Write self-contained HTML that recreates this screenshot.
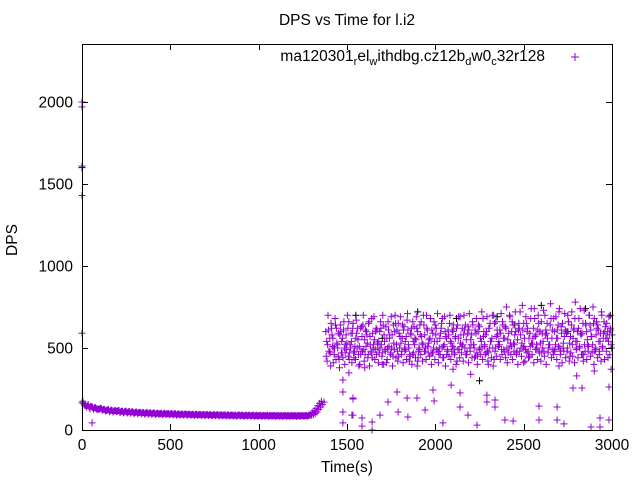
<!DOCTYPE html>
<html><head><meta charset="utf-8"><style>
html,body{margin:0;padding:0;background:#fff}
svg{display:block;font-family:"Liberation Sans",sans-serif}
</style></head><body>
<svg id="chart" width="640" height="480" viewBox="0 0 640 480" xmlns="http://www.w3.org/2000/svg">
<rect width="640" height="480" fill="#fff"/>
<text x="347" y="25" font-size="15.5" text-anchor="middle">DPS vs Time for l.i2</text>
<text x="17" y="240" font-size="15.5" text-anchor="middle" transform="rotate(-90 17 240)">DPS</text>
<text x="347" y="472" font-size="15.5" text-anchor="middle">Time(s)</text>
<g id="marks"></g>
<g id="axes"></g>
<g>
<text x="545" y="61" font-size="15.5" text-anchor="end">ma120301<tspan font-size="11" dy="4">r</tspan><tspan dy="-4">el</tspan><tspan font-size="11" dy="4">w</tspan><tspan dy="-4">ithdbg.cz12b</tspan><tspan font-size="11" dy="4">d</tspan><tspan dy="-4">w0</tspan><tspan font-size="11" dy="4">c</tspan><tspan dy="-4">32r128</tspan></text>
<path d="M571,57h8M575,53v8" stroke="#9400d3" stroke-width="1"/>
</g>
</svg>
<script>
const xTicks=[0,500,1000,1500,2000,2500,3000];
const yTicks=[0,500,1000,1500,2000];
const lowStart=0;
const lowA=[165,160,150,148,140,145,138,135,132,130,128,130,125,122,120,124,118,120,116,118,115,117,112,114,110,113,108,112,110,108,107,110,105,108,104,106,103,105,102,104,102,104,100,103,99,101,98,102,99,100,98,100,97,99,96,98,95,97,96,98,95,97,94,96,93,96,94,95,93,95,93,95,92,94,91,94,92,93,91,93,91,93,90,92,90,92,89,91,90,92,89,91,88,90,89,91,88,90,88,90,88,90,87,89,88,90,87,89,88,89,87,89,86,88,87,89,86,88,87,88,87,88,86,88,87,88,86,88,87,88,90,94,100,110,125,140,155,170];
const lowB=[175,150,140,155,130,142,128,137,124,126,133,121,127,115,123,112,121,110,117,113,119,106,115,104,116,103,112,102,111,100,108,99,107,98,106,97,105,96,104,95,103,94,102,96,100,93,101,94,99,92,99,92,98,91,97,90,97,91,96,89,96,90,95,88,95,89,94,88,94,87,93,88,93,86,92,87,92,86,91,86,91,85,91,86,90,85,90,84,90,85,89,84,89,85,89,84,89,83,88,84,88,83,88,84,88,83,88,84,87,83,87,84,87,83,87,84,87,83,87,84,87,83,88,84,88,85,88,84,92,97,105,118,132,148,162,175];
const bandStart=1380;
const bandA=[600,520,480,650,560,500,620,450,580,540,610,470,530,660,500,590,440,560,620,510,480,640,550,600,460,570,680,520,490,610,540,660,470,580,630,500,560,690,450,600,520,650,570,480,610,540,670,500,590,460,630,550,600,490,660,520,580,700,470,560,610,500,640,540,460,590,680,520,570,490,650,530,600,470,620,560,690,510,580,640,480,610,550,660,500,590,450,630,540,680,520,600,470,650,560,700,500,610,540,590,660,480,620,550,700,510,640,580,460,610,720,530,650,490,600,560,680,520,740,580,610,470,660,540,700,590,500,640,560,680,520,610,720,480,650,570,600,700,530,640,560,680,500,620,740,590,460,650,550,700,610,520,680,580,640,480,720,560,600,650,540,620,580];
const bandB=[540,610,470,580,500,640,520,430,600,560,500,580,620,470,540,650,510,590,460,620,570,490,610,530,660,480,590,550,620,500,600,520,640,490,560,610,470,580,530,650,480,590,530,640,500,570,610,460,620,540,560,620,480,580,530,640,500,610,550,470,590,540,620,480,560,650,510,600,460,580,540,610,500,570,640,490,580,520,610,550,630,500,580,520,610,470,640,560,500,600,580,480,620,540,500,650,570,520,610,490,560,630,500,590,530,660,480,600,550,620,500,610,560,650,480,590,530,620,570,500,650,530,590,480,610,560,520,680,490,600,560,640,500,590,530,610,480,660,570,520,620,540,600,510,580,650,520,600,480,640,570,650,500,620,540,590,510,660,560,600,580,520];
const bandC=[450,700,560,620,410,680,530,590,640,470,660,520,700,430,590,620,480,670,550,400,630,700,460,580,650,520,440,690,600,530,470,620,700,540,410,660,580,500,640,700,610,450,690,560,630,490,710,420,580,660,520,690,440,640,570,700,480,620,530,680,470,660,580,710,500,620,440,690,560,610,700,480,640,560,420,690,530,620,700,460,590,710,520,640,440,680,600,500,720,570,460,690,620,540,700,430,660,580,520,710,640,560,750,470,690,600,530,720,480,650,580,760,510,690,620,450,740,560,680,520,700,600,470,730,580,650,520,770,610,480,690,560,740,630,500,710,590,660,450,720,610,780,540,680,590,460,730,640,520,700,570,750,480,660,610,540,700,590,630,560,690,610];
const bandD=[420,480,390,510,460,430,500,380,470,440,400,490,450,520,410,470,430,500,390,460,480,420,510,440,390,470,500,430,460,410,500,450,400,480,430,510,460,390,490,440,420,500,460,410,480,430,520,450,400,470,440,390,500,460,420,480,430,510,450,400,470,430,490,410,460,500,440,390,480,450,430,510,460,400,490,440,470,420,500,460,410,480,440,520,450,400,490,460,430,510,470,420,500,440,390,480,450,510,430,460,490,440,410,500,460,430,520,470,400,480,450,500,420,470,440,510,460,410,490,430,480,420,500,450,400,470,520,440,460,490,430,510,460,410,480,440,500,420,470,450,410,490,440,500,460,420,480,430,510,450,470,400,490,440,460,420,500,430,480,440,460,500];
const outT=[0,0,0,0,0,57,1477,1477,1477,1534,1528,1585,1585,1642,1642,1687,1732,1789,1783,1840,1896,1845,1942,1987,1993,2043,2089,2140,2140,2185,2236,2292,2292,2338,2338,2394,2440,2587,2587,2689,2689,2728,2779,2830,2881,2932,2932,2983,2983,1477,1534,1534,1511,1600,1700,1900,2100,2300,2500,2700,2900,2200,2800,2995];
const outV=[590,2000,1970,1610,1430,43,232,110,43,195,91,73,24,49,0,91,171,110,232,195,195,79,122,244,177,43,274,226,140,91,30,213,171,183,140,61,55,146,61,140,61,37,256,256,18,73,18,262,61,305,189,91,348,380,400,420,370,400,410,390,360,340,330,370];
const blackT=[0,0,0,1550,1900,2120,2350,2600,2850,2990,2250,1700,2450,2750];
const blackV=[2000,1600,1430,700,720,680,690,760,740,700,300,560,640,600];

const X0=82,X1=612,Y0=430,Y1=44,XMAX=3000,YPX=0.164;
function xs(t){return X0+t*(X1-X0)/XMAX;}
function ys(v){return Y0-v*YPX;}
const NS='http://www.w3.org/2000/svg';
const marks=document.getElementById('marks');
const axes=document.getElementById('axes');
let blackD='',purpleD='';
function plus(t,v){const x=xs(t),y=ys(v);if(x<X0-1||x>X1+1||y<Y1||y>Y0+1)return '';return 'M'+(x-3.5).toFixed(1)+','+y.toFixed(1)+'h7M'+x.toFixed(1)+','+(y-3.5).toFixed(1)+'v7';}
for(let i=0;i<blackT.length;i++)blackD+=plus(blackT[i],blackV[i]);
for(let i=0;i<lowA.length;i++)purpleD+=plus(lowStart+i*10,lowA[i]);
for(let i=0;i<lowB.length;i++)purpleD+=plus(lowStart+5+i*10,lowB[i]);
for(let i=0;i<bandA.length;i++)purpleD+=plus(bandStart+i*10,bandA[i]);
for(let i=0;i<bandB.length;i++)purpleD+=plus(bandStart+5+i*10,bandB[i]);
for(let i=0;i<bandC.length;i++)purpleD+=plus(bandStart+2.5+i*10,bandC[i]);
for(let i=0;i<bandD.length;i++)purpleD+=plus(bandStart+7.5+i*10,bandD[i]);
for(let i=0;i<outT.length;i++)purpleD+=plus(outT[i],outV[i]);
const bp=document.createElementNS(NS,'path');
bp.setAttribute('d',blackD);bp.setAttribute('stroke','#000');bp.setAttribute('stroke-width','1');bp.setAttribute('fill','none');


marks.appendChild(bp);
const pp=document.createElementNS(NS,'path');
pp.setAttribute('d',purpleD);pp.setAttribute('stroke','#9400d3');pp.setAttribute('stroke-width','1');pp.setAttribute('fill','none');


marks.appendChild(pp);

const frame=document.createElementNS(NS,'rect');
frame.setAttribute('x',X0+0.5);frame.setAttribute('y',Y1+0.5);frame.setAttribute('width',X1-X0);frame.setAttribute('height',Y0-Y1);
frame.setAttribute('fill','none');frame.setAttribute('stroke','#000');frame.setAttribute('stroke-width','1');


axes.appendChild(frame);
let td='';
xTicks.forEach(t=>{const x=Math.round(xs(t))+0.5;td+='M'+x+','+Y0+'v-6M'+x+','+Y1+'v6';
 const tx=document.createElementNS(NS,'text');tx.setAttribute('x',xs(t));tx.setAttribute('y',Y0+20);tx.setAttribute('font-size','15.5');tx.setAttribute('text-anchor','middle');tx.textContent=t;
 
 
 axes.appendChild(tx);});
yTicks.forEach(v=>{const y=Math.round(ys(v))+0.5;td+='M'+X0+','+y+'h6M'+X1+','+y+'h-6';
 const tx=document.createElementNS(NS,'text');tx.setAttribute('x',X0-9);tx.setAttribute('y',ys(v)+5.5);tx.setAttribute('font-size','15.5');tx.setAttribute('text-anchor','end');tx.textContent=v;
 
 
 axes.appendChild(tx);});
const tp=document.createElementNS(NS,'path');
tp.setAttribute('d',td);tp.setAttribute('stroke','#000');tp.setAttribute('stroke-width','1');


axes.appendChild(tp);
</script>
</body></html>
